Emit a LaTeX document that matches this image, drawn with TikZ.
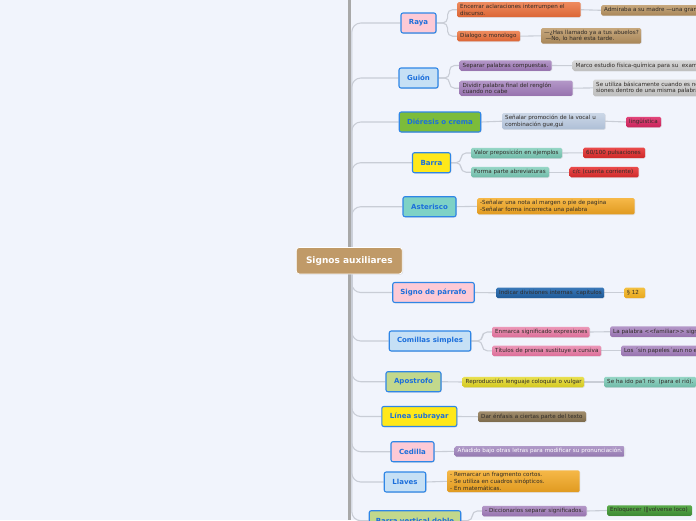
\documentclass[tikz,border=0pt]{standalone}
\usepackage{fontspec}
\setmainfont{DejaVu Sans}
\usetikzlibrary{shadows,backgrounds}
\definecolor{bgcol}{HTML}{F1F4FC}
\definecolor{barcol}{HTML}{A8A8A8}
\definecolor{conncol}{HTML}{C9CDD6}
\definecolor{mainborder}{HTML}{2F86E6}
\definecolor{maintext}{HTML}{1C6FDB}
\definecolor{centerfill}{HTML}{C09A68}
\definecolor{pinkf}{HTML}{FDCAD6}
\definecolor{bluef}{HTML}{C6E0F5}
\definecolor{greenf}{HTML}{7CBC3A}
\definecolor{yellowf}{HTML}{FFE81A}
\definecolor{tealf}{HTML}{7ED2C6}
\definecolor{olivef}{HTML}{C2D88C}
\definecolor{childtext}{HTML}{2E2A26}
\tikzset{
  main/.style={draw=mainborder, line width=1.1pt, rounded corners=2pt,
    font=\fontsize{7}{8}\selectfont\bfseries, text=maintext,
    minimum height=20pt, inner sep=0pt,
    drop shadow={opacity=0.2, shadow xshift=0.8pt, shadow yshift=-0.8pt}},
  child/.style={rounded corners=1.5pt, anchor=west, inner xsep=3pt, inner ysep=2pt,
    minimum height=10.5pt, font=\fontsize{5.6}{6.7}\selectfont, text=childtext, align=left,
    drop shadow={opacity=0.15, shadow xshift=0.6pt, shadow yshift=-0.6pt}},
  grad/.style 2 args={/utils/exec={\definecolor{gradtop}{HTML}{#1}\definecolor{gradbot}{HTML}{#2}},
    top color=gradtop, bottom color=gradbot},
  conn/.style={draw=conncol, line width=1.1pt},
  fork/.style={conn, rounded corners=5pt},
  trunk/.style={conn, rounded corners=9pt},
}
\begin{document}
\begin{tikzpicture}[x=1pt,y=-1pt]
\useasboundingbox (0,0) rectangle (696,520);
\clip (0,0) rectangle (696,520);

% central
\node[draw=white, line width=0.8pt, fill=centerfill, rounded corners=3pt, text=white,
  font=\fontsize{9}{10}\selectfont\bfseries, minimum width=106pt, minimum height=26.5pt, inner sep=0pt,
  drop shadow={opacity=0.2, shadow xshift=0.8pt, shadow yshift=-0.8pt}] (c) at (349.3,260.7) {Signos auxiliares};

% main nodes
\node[main, fill=pinkf,   minimum width=35pt]   (raya)  at (418.5,23)   {Raya};
\node[main, fill=bluef,   minimum width=39pt]   (guion) at (418.5,78)   {Guión};
\node[main, fill=greenf,  minimum width=81.5pt] (dier)  at (440,122)    {Diéresis o crema};
\node[main, fill=yellowf, minimum width=38pt]   (barra) at (431.5,162.7){Barra};
\node[main, fill=tealf,   minimum width=53pt]   (aster) at (429.5,206.7){Asterisco};
\node[main, fill=pinkf,   minimum width=81.5pt] (parr)  at (433.5,292.5){Signo de párrafo};
\node[main, fill=bluef,   minimum width=81.5pt] (comi)  at (430,341)    {Comillas simples};
\node[main, fill=olivef,  minimum width=55pt]   (apos)  at (413.5,381.7){Apostrofo};
\node[main, fill=yellowf, minimum width=75pt]   (linea) at (419.3,416.5){Línea subrayar};
\node[main, fill=pinkf,   minimum width=43pt]   (cedi)  at (412.5,451.7){Cedilla};
\node[main, fill=bluef,   minimum width=41.5pt] (llav)  at (405,482)    {Llaves};
\node[main, fill=olivef,  minimum width=91.5pt] (doble) at (415,520.7)  {Barra vertical doble};

% children
\node[child, text width=117.5pt, grad={EE8B5E}{DB6535}] (enc)  at (457,9.7) {\mbox{Encerrar aclaraciones interrumpen el}\\\mbox{discurso.}};
\node[child, text width=57pt, grad={EE8B5E}{DB6535}] (dial) at (457,36.2) {\mbox{Dialogo o monologo}};
\node[child, grad={C7A87E}{A88658}] (adm)  at (601,10.3) {Admiraba a su madre —una gran mujer—};
\node[child, text width=94pt, grad={C7A87E}{A88658}] (has)  at (541,35.8) {\mbox{—¿Has llamado ya a tus abuelos?}\\\mbox{\hspace{1.5pt}—No, lo haré esta tarde.}};

\node[child, text width=86pt, grad={B497C8}{9672AE}] (sep)   at (459.5,65.5) {\mbox{Separar palabras compuestas.}};
\node[child, grad={D6D6D6}{BEBEBE}] (marco) at (572.5,65.7) {Marco estudio física-química para su \ examen};
\node[child, text width=107pt, grad={B497C8}{9672AE}] (div)   at (459.5,88.2) {\mbox{Dividir palabra final del renglón}\\\mbox{cuando no cabe}};
\node[child, grad={D6D6D6}{BEBEBE}] (seut)  at (593,87.9) {Se utiliza básicamente cuando es necesario hacer divi-\\siones dentro de una misma palabra.};

\node[child, text width=97pt, grad={CCD7E7}{AEBFD6}] (senal) at (502,121.2) {\mbox{Señalar promoción de la vocal u}\\\mbox{combinación gue,gui}};
\node[child, text width=29pt, grad={E2457A}{C8245A}] (ling)  at (626,122) {\mbox{lingüística}};

\node[child, text width=85pt, grad={96D6C6}{70BAA8}] (valor) at (471,153) {\mbox{Valor preposición en ejemplos}};
\node[child, text width=56pt, grad={EA4A4A}{CE2A2A}] (pulsa) at (583,152.8) {\mbox{60/100 pulsaciones}};
\node[child, text width=72pt, grad={96D6C6}{70BAA8}] (forma) at (471,172.2) {\mbox{Forma parte abreviaturas}};
\node[child, text width=63pt, grad={EA4A4A}{CE2A2A}] (cc)    at (569.5,172.2) {\mbox{c/c (cuenta corriente)}};

\node[child, text width=151.5pt, grad={F6B848}{E09A20}] (nota)  at (477,206.3) {\mbox{-Señalar una nota al margen o pie de pagina}\\\mbox{-Señalar forma incorrecta una palabra}};

\node[child, text width=102pt, grad={3A78B8}{1F5A98}] (indic) at (496,292.8) {\mbox{Indicar divisiones internas \ capitulos}};
\node[child, text width=15pt, grad={F4C040}{E8A820}] (sect)  at (624,292.8) {\mbox{§ 12}};

\node[child, text width=91.5pt, grad={EC98B8}{DC6E98}] (enma)  at (492,332) {\mbox{Enmarca significado expresiones}};
\node[child, grad={B497C8}{9672AE}] (lapal) at (610,331.7) {La palabra <\kern0pt<familiar>\kern0pt> significa};
\node[child, text width=103pt, grad={EC98B8}{DC6E98}] (titu)  at (492,350.8) {\mbox{Títulos de prensa sustituye a cursiva}};
\node[child, grad={B497C8}{9672AE}] (los)   at (621,350.8) {Los ´sin papeles´aun no están};

\node[child, text width=115.5pt, grad={E8E050}{D4C820}] (repro) at (462.5,382) {\mbox{Reproducción lenguaje coloquial o vulgar}};
\node[child, text width=86pt, grad={96D6C6}{70BAA8}] (seha)  at (604,382) {\mbox{Se ha ido pa'l rio \ (para el rió).}};

\node[child, text width=102pt, grad={A08C6C}{7C6A4C}] (dar)   at (478,416.7) {\mbox{Dar énfasis a ciertas parte del texto}};

\node[child, text width=164pt, grad={B09AC8}{9478B0}, text=white] (anad) at (454.5,451.3) {\mbox{Añadido bajo otras letras para modificar su pronunciación.}};

\node[child, text width=126.5pt, grad={F6B848}{E09A20}] (llavc) at (447,481.3) {\mbox{- Remarcar un fragmento cortos.}\\\mbox{- Se utiliza en cuadros sinópticos.}\\\mbox{- En matemáticas.}};

\node[child, text width=98.5pt, grad={B497C8}{9672AE}] (dicc)  at (482,511) {\mbox{- Diccionarios separar significados.}};
\node[child, text width=79pt, grad={5AAA4A}{3E8A34}] (enlo)  at (607,510.5) {\mbox{Enloquecer (‖volverse loco)}};

\coordinate (bartop) at (349.8,0);
\coordinate (barbot) at (349.8,520);
\coordinate (offc) at (482,545);

\begin{pgfonlayer}{background}
\fill[bgcol] (0,0) rectangle (696,520);
\draw[barcol, line width=3pt] (bartop) -- (barbot);
% trunk connectors
\foreach \n in {raya,guion,dier,barra,aster}
  \draw[trunk] ([xshift=2.5pt]c.north) |- (\n.west);
\foreach \n in {parr,comi,apos,linea,cedi,llav,doble}
  \draw[trunk] ([xshift=2.5pt]c.south) |- (\n.west);
% forks
\draw[fork] (raya.east) -- ++(11,0) |- (enc.west);
\draw[fork] (raya.east) -- ++(11,0) |- (dial.west);
\draw[fork] (guion.east) -- ++(11,0) |- (sep.west);
\draw[fork] (guion.east) -- ++(11,0) |- (div.west);
\draw[fork] (barra.east) -- ++(10,0) |- (valor.west);
\draw[fork] (barra.east) -- ++(10,0) |- (forma.west);
\draw[fork] (comi.east) -- ++(11,0) |- (enma.west);
\draw[fork] (comi.east) -- ++(11,0) |- (titu.west);
\draw[fork] (doble.east) -- ++(11,0) |- (dicc.west);
\draw[fork] (doble.east) -- ++(11,0) |- (offc);
% single links
\draw[conn] (dier.east) -- (senal.west);
\draw[conn] (aster.east) -- (nota.west);
\draw[conn] (parr.east) -- (indic.west);
\draw[conn] (apos.east) -- (repro.west);
\draw[conn] (linea.east) -- (dar.west);
\draw[conn] (cedi.east) -- (anad.west);
\draw[conn] (llav.east) -- (llavc.west);
% grandchildren
\draw[conn] (enc.east) -- (adm.west);
\draw[conn] (dial.east) -- (has.west);
\draw[conn] (sep.east) -- (marco.west);
\draw[conn] (div.east) -- (seut.west);
\draw[conn] (senal.east) -- (ling.west);
\draw[conn] (valor.east) -- (pulsa.west);
\draw[conn] (forma.east) -- (cc.west);
\draw[conn] (indic.east) -- (sect.west);
\draw[conn] (enma.east) -- (lapal.west);
\draw[conn] (titu.east) -- (los.west);
\draw[conn] (repro.east) -- (seha.west);
\draw[conn] (dicc.east) -- (enlo.west);
\end{pgfonlayer}
\end{tikzpicture}
\end{document}
